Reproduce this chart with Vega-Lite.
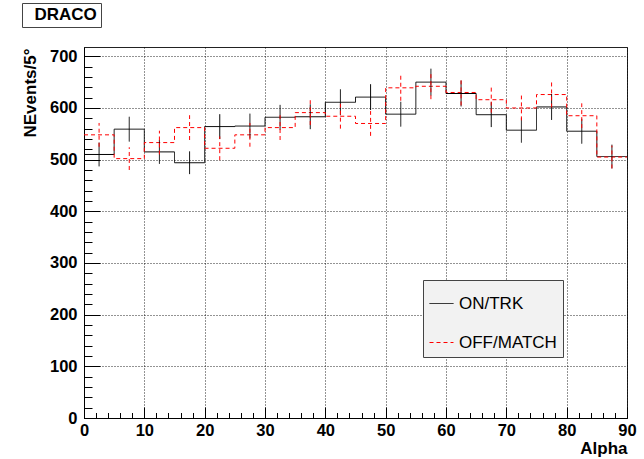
{
  "$schema": "https://vega.github.io/schema/vega-lite/v6.json",
  "width": 543,
  "height": 371,
  "autosize": {"type": "none"},
  "padding": {"left": 84, "top": 47, "right": 17, "bottom": 41},
  "background": "white",
  "config": {
    "font": "Liberation Sans",
    "view": {"stroke": "#222", "strokeWidth": 1}
  },
  "datasets": {
    "h": [
      {"s": "ON/TRK", "lo": 0, "hi": 5, "c": 2.5, "v": 510, "elo": 487, "ehi": 533},
      {"s": "ON/TRK", "lo": 5, "hi": 10, "c": 7.5, "v": 559, "elo": 535, "ehi": 583},
      {"s": "ON/TRK", "lo": 10, "hi": 15, "c": 12.5, "v": 515, "elo": 492, "ehi": 538},
      {"s": "ON/TRK", "lo": 15, "hi": 20, "c": 17.5, "v": 494, "elo": 472, "ehi": 516},
      {"s": "ON/TRK", "lo": 20, "hi": 25, "c": 22.5, "v": 564, "elo": 540, "ehi": 588},
      {"s": "ON/TRK", "lo": 25, "hi": 30, "c": 27.5, "v": 565, "elo": 541, "ehi": 589},
      {"s": "ON/TRK", "lo": 30, "hi": 35, "c": 32.5, "v": 582, "elo": 558, "ehi": 606},
      {"s": "ON/TRK", "lo": 35, "hi": 40, "c": 37.5, "v": 583, "elo": 559, "ehi": 607},
      {"s": "ON/TRK", "lo": 40, "hi": 45, "c": 42.5, "v": 611, "elo": 586, "ehi": 636},
      {"s": "ON/TRK", "lo": 45, "hi": 50, "c": 47.5, "v": 621, "elo": 596, "ehi": 646},
      {"s": "ON/TRK", "lo": 50, "hi": 55, "c": 52.5, "v": 588, "elo": 564, "ehi": 612},
      {"s": "ON/TRK", "lo": 55, "hi": 60, "c": 57.5, "v": 650, "elo": 624, "ehi": 676},
      {"s": "ON/TRK", "lo": 60, "hi": 65, "c": 62.5, "v": 628, "elo": 603, "ehi": 653},
      {"s": "ON/TRK", "lo": 65, "hi": 70, "c": 67.5, "v": 587, "elo": 563, "ehi": 611},
      {"s": "ON/TRK", "lo": 70, "hi": 75, "c": 72.5, "v": 557, "elo": 533, "ehi": 581},
      {"s": "ON/TRK", "lo": 75, "hi": 80, "c": 77.5, "v": 602, "elo": 577, "ehi": 627},
      {"s": "ON/TRK", "lo": 80, "hi": 85, "c": 82.5, "v": 555, "elo": 531, "ehi": 579},
      {"s": "ON/TRK", "lo": 85, "hi": 90, "c": 87.5, "v": 506, "elo": 483, "ehi": 529},
      {"s": "OFF/MATCH", "lo": 0, "hi": 5, "c": 2.5, "v": 548, "elo": 525, "ehi": 571},
      {"s": "OFF/MATCH", "lo": 5, "hi": 10, "c": 7.5, "v": 502, "elo": 480, "ehi": 524},
      {"s": "OFF/MATCH", "lo": 10, "hi": 15, "c": 12.5, "v": 533, "elo": 510, "ehi": 556},
      {"s": "OFF/MATCH", "lo": 15, "hi": 20, "c": 17.5, "v": 562, "elo": 538, "ehi": 586},
      {"s": "OFF/MATCH", "lo": 20, "hi": 25, "c": 22.5, "v": 522, "elo": 499, "ehi": 545},
      {"s": "OFF/MATCH", "lo": 25, "hi": 30, "c": 27.5, "v": 548, "elo": 525, "ehi": 571},
      {"s": "OFF/MATCH", "lo": 30, "hi": 35, "c": 32.5, "v": 562, "elo": 538, "ehi": 586},
      {"s": "OFF/MATCH", "lo": 35, "hi": 40, "c": 37.5, "v": 591, "elo": 567, "ehi": 615},
      {"s": "OFF/MATCH", "lo": 40, "hi": 45, "c": 42.5, "v": 584, "elo": 560, "ehi": 608},
      {"s": "OFF/MATCH", "lo": 45, "hi": 50, "c": 47.5, "v": 570, "elo": 546, "ehi": 594},
      {"s": "OFF/MATCH", "lo": 50, "hi": 55, "c": 52.5, "v": 639, "elo": 614, "ehi": 664},
      {"s": "OFF/MATCH", "lo": 55, "hi": 60, "c": 57.5, "v": 642, "elo": 617, "ehi": 667},
      {"s": "OFF/MATCH", "lo": 60, "hi": 65, "c": 62.5, "v": 630, "elo": 605, "ehi": 655},
      {"s": "OFF/MATCH", "lo": 65, "hi": 70, "c": 67.5, "v": 616, "elo": 591, "ehi": 641},
      {"s": "OFF/MATCH", "lo": 70, "hi": 75, "c": 72.5, "v": 600, "elo": 576, "ehi": 624},
      {"s": "OFF/MATCH", "lo": 75, "hi": 80, "c": 77.5, "v": 626, "elo": 601, "ehi": 651},
      {"s": "OFF/MATCH", "lo": 80, "hi": 85, "c": 82.5, "v": 585, "elo": 561, "ehi": 609},
      {"s": "OFF/MATCH", "lo": 85, "hi": 90, "c": 87.5, "v": 505, "elo": 483, "ehi": 527}
    ],
    "tag": [{"t": "DRACO"}]
  },
  "resolve": {"axis": {"x": "independent", "y": "independent"}},
  "layer": [
    {
      "data": {"name": "h"},
      "transform": [{"fold": ["lo", "hi"], "as": ["k", "edge"]}],
      "mark": {"type": "line", "strokeWidth": 1},
      "encoding": {
        "x": {
          "field": "edge", "type": "quantitative",
          "scale": {"domain": [0, 90], "nice": false, "zero": false},
          "axis": {
            "orient": "bottom",
            "values": [0, 10, 20, 30, 40, 50, 60, 70, 80, 90],
            "format": "d",
            "tickSize": -11, "tickColor": "black", "tickWidth": 1,
            "labelFontSize": 16.5, "labelFontWeight": "bold", "labelColor": "black", "labelFont": "Liberation Sans",
            "labelPadding": 15, "labelFlush": false, "labelOverlap": false, "labelBound": false,
            "grid": true, "gridColor": "black", "gridDash": [1, 2], "gridWidth": 1, "gridOpacity": 0.85,
            "domainColor": "black", "domainWidth": 1,
            "title": "Alpha", "titleFontSize": 17, "titleFontWeight": "bold", "titleColor": "black", "titleFont": "Liberation Sans",
            "titleX": 543, "titleY": 35, "titleAlign": "right", "titleBaseline": "alphabetic"
          }
        },
        "y": {
          "field": "v", "type": "quantitative",
          "scale": {"domain": [0, 718], "nice": false, "zero": false},
          "axis": {
            "orient": "left",
            "values": [0, 100, 200, 300, 400, 500, 600, 700],
            "format": "d",
            "tickSize": -16, "tickColor": "black", "tickWidth": 1,
            "labelFontSize": 16.5, "labelFontWeight": "bold", "labelColor": "black", "labelFont": "Liberation Sans",
            "labelPadding": 23, "labelFlush": false, "labelOverlap": false, "labelBound": false,
            "grid": true, "gridColor": "black", "gridDash": [1, 2], "gridWidth": 1, "gridOpacity": 0.85,
            "domainColor": "black", "domainWidth": 1,
            "title": "NEvents/5°", "titleFontSize": 17, "titleFontWeight": "bold", "titleColor": "black", "titleFont": "Liberation Sans",
            "titleAngle": -90, "titleX": -49, "titleY": 1, "titleAlign": "right", "titleBaseline": "alphabetic"
          }
        },
        "color": {
          "field": "s", "type": "nominal",
          "scale": {"domain": ["ON/TRK", "OFF/MATCH"], "range": ["#000000", "#ff0000"]},
          "legend": {
            "orient": "none", "legendX": 339, "legendY": 233, "title": null,
            "padding": 6, "fillColor": "#f2f2f2", "strokeColor": "#444",
            "symbolType": "M-1,0H0.41", "symbolSize": 1156, "symbolStrokeWidth": 1,
            "labelFontSize": 17, "labelFont": "Liberation Sans", "labelColor": "black",
            "labelOffset": -5, "rowPadding": 13
          }
        },
        "strokeDash": {
          "field": "s", "type": "nominal",
          "scale": {"domain": ["ON/TRK", "OFF/MATCH"], "range": [[1, 0], [4, 3]]},
          "legend": {
            "orient": "none", "legendX": 339, "legendY": 233, "title": null,
            "padding": 6, "fillColor": "#f2f2f2", "strokeColor": "#444",
            "symbolType": "M-1,0H0.41", "symbolSize": 1156, "symbolStrokeWidth": 1,
            "labelFontSize": 17, "labelFont": "Liberation Sans", "labelColor": "black",
            "labelOffset": -5, "rowPadding": 13
          }
        },
        "order": {"value": null}
      }
    },
    {
      "data": {"name": "h"},
      "mark": {"type": "point", "opacity": 0},
      "encoding": {
        "x": {
          "field": "c", "type": "quantitative",
          "scale": {"domain": [0, 90], "nice": false, "zero": false},
          "axis": {
            "orient": "bottom",
            "values": [0,2,4,6,8,10,12,14,16,18,20,22,24,26,28,30,32,34,36,38,40,42,44,46,48,50,52,54,56,58,60,62,64,66,68,70,72,74,76,78,80,82,84,86,88,90],
            "tickSize": -5.5, "tickColor": "black", "tickWidth": 1,
            "labels": false, "grid": false, "domain": false, "title": null
          }
        },
        "y": {
          "field": "v", "type": "quantitative",
          "scale": {"domain": [0, 718], "nice": false, "zero": false},
          "axis": {
            "orient": "left",
            "values": [0,20,40,60,80,100,120,140,160,180,200,220,240,260,280,300,320,340,360,380,400,420,440,460,480,500,520,540,560,580,600,620,640,660,680,700],
            "tickSize": -8, "tickColor": "black", "tickWidth": 1,
            "labels": false, "grid": false, "domain": false, "title": null
          }
        }
      }
    },
    {
      "data": {"name": "h"},
      "mark": {"type": "rule", "strokeWidth": 1},
      "encoding": {
        "x": {"field": "c", "type": "quantitative", "scale": {"domain": [0, 90], "nice": false, "zero": false}, "axis": null},
        "y": {"field": "elo", "type": "quantitative", "scale": {"domain": [0, 718], "nice": false, "zero": false}, "axis": null},
        "y2": {"field": "ehi"},
        "color": {"field": "s", "type": "nominal", "scale": {"domain": ["ON/TRK", "OFF/MATCH"], "range": ["#000000", "#ff0000"]}},
        "strokeDash": {"field": "s", "type": "nominal", "scale": {"domain": ["ON/TRK", "OFF/MATCH"], "range": [[1, 0], [4, 3]]}}
      }
    },
    {
      "data": {"name": "tag"},
      "mark": {"type": "point", "opacity": 0},
      "encoding": {
        "shape": {
          "field": "t", "type": "nominal",
          "scale": {"domain": ["DRACO"]},
          "legend": {
            "orient": "none", "legendX": -62, "legendY": -44, "title": null,
            "padding": 3.5, "fillColor": "#ffffff", "strokeColor": "#444",
            "symbolSize": 1, "symbolOpacity": 0,
            "labelFontSize": 17, "labelFontWeight": "bold", "labelFont": "Liberation Sans", "labelColor": "black",
            "labelOffset": -8, "labelExpr": "datum.label + '\u00a0\u00a0'"
          }
        }
      }
    }
  ]
}
